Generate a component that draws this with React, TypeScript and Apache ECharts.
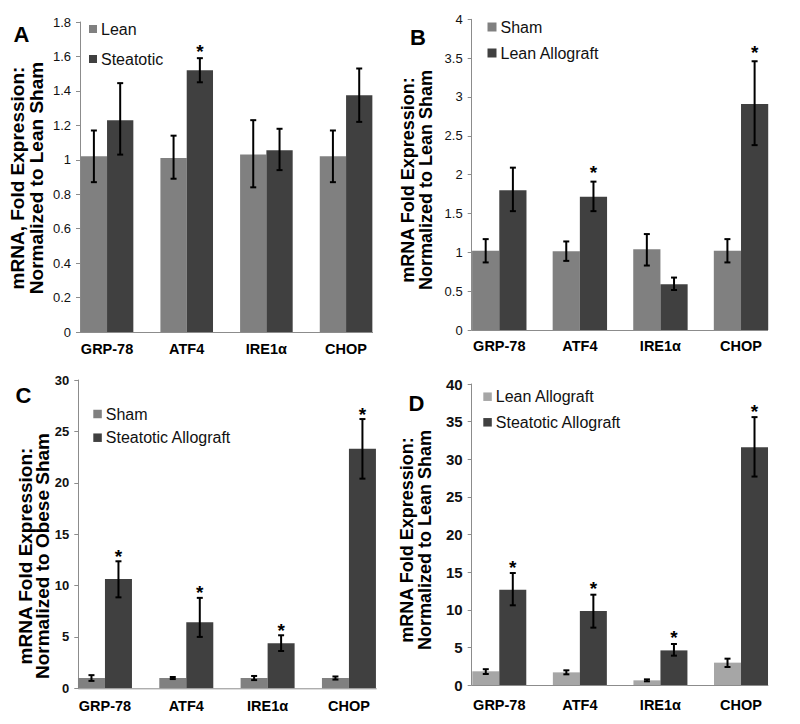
import React, { useEffect, useRef } from 'react';
import * as echarts from 'echarts';

// ---------- data ----------
const categories = ['GRP-78', 'ATF4', 'IRE1α', 'CHOP'];

// Panel A
const aLean = [1.02, 1.01, 1.03, 1.02];
const aLeanLo = [0.87, 0.89, 0.84, 0.87];
const aLeanHi = [1.17, 1.14, 1.23, 1.17];
const aSteat = [1.23, 1.52, 1.055, 1.375];
const aSteatLo = [1.03, 1.45, 0.94, 1.22];
const aSteatHi = [1.445, 1.59, 1.18, 1.53];
const aStars = [0, 1, 0, 0];

// Panel B
const bSham = [1.02, 1.015, 1.04, 1.02];
const bShamLo = [0.87, 0.89, 0.83, 0.87];
const bShamHi = [1.17, 1.14, 1.235, 1.17];
const bLeanAllo = [1.8, 1.715, 0.59, 2.91];
const bLeanAlloLo = [1.53, 1.53, 0.515, 2.38];
const bLeanAlloHi = [2.09, 1.91, 0.675, 3.46];
const bStars = [0, 1, 0, 1];

// Panel C
const cSham = [1.0, 1.0, 1.0, 1.0];
const cShamLo = [0.72, 0.9, 0.8, 0.85];
const cShamHi = [1.28, 1.1, 1.2, 1.15];
const cSteatAllo = [10.63, 6.42, 4.38, 23.3];
const cSteatAlloLo = [8.85, 5.0, 3.63, 20.4];
const cSteatAlloHi = [12.36, 8.8, 5.16, 26.2];
const cStars = [1, 1, 1, 1];

// Panel D
const dLeanAllo = [1.82, 1.68, 0.62, 2.97];
const dLeanAlloLo = [1.46, 1.42, 0.49, 2.39];
const dLeanAlloHi = [2.1, 1.95, 0.75, 3.5];
const dSteatAllo = [12.67, 9.83, 4.6, 31.6];
const dSteatAlloLo = [10.59, 7.62, 3.9, 27.7];
const dSteatAlloHi = [14.88, 12.0, 5.45, 35.6];
const dStars = [1, 1, 1, 1];

// ---------- styling / layout ----------
const FONT = 'Arial, "Liberation Sans", sans-serif';
const LIGHT = '#808080';
const DARK = '#404040';
const PALE = '#a6a6a6';
const AXIS = '#8c8c8c';

type SeriesDef = { name: string; color: string; values: number[]; lo: number[]; hi: number[]; stars: number[] | null };
type PanelDef = {
  letter: string;
  letterX: number; letterY: number;
  gridLeft: number; gridTop: number; gridWidth: number; gridHeight: number;
  axisX: number; axisEnd: number;
  yMax: number; yInterval: number;
  tickSize: number; tickWeight: string;
  catMargin: number;
  barWidth: number;
  legendLeft: number; legendTop: number; legendGap: number; legendIcon: number;
  title: string; titleX: number; titleY: number; titleSize: number; titleLH: number;
  starGap: number;
  series: SeriesDef[];
};

const panels: PanelDef[] = [
  {
    letter: 'A', letterX: 21.5, letterY: 34,
    gridLeft: 67.2, gridTop: 22, gridWidth: 318.7, gridHeight: 310,
    axisX: 80, axisEnd: 373,
    yMax: 1.8, yInterval: 0.2, tickSize: 13, tickWeight: 'normal', catMargin: 9,
    barWidth: 26.3,
    legendLeft: 89, legendTop: 21, legendGap: 14, legendIcon: 8,
    title: 'mRNA, Fold Expression:\nNormalized to Lean Sham', titleX: 27, titleY: 178, titleSize: 19, titleLH: 19,
    starGap: 7,
    series: [
      { name: 'Lean', color: LIGHT, values: aLean, lo: aLeanLo, hi: aLeanHi, stars: null },
      { name: 'Steatotic', color: DARK, values: aSteat, lo: aSteatLo, hi: aSteatHi, stars: aStars },
    ],
  },
  {
    letter: 'B', letterX: 418, letterY: 37,
    gridLeft: 459, gridTop: 19.3, gridWidth: 322.3, gridHeight: 310.7,
    axisX: 471.7, axisEnd: 768,
    yMax: 4, yInterval: 0.5, tickSize: 13, tickWeight: 'normal', catMargin: 8,
    barWidth: 27.2,
    legendLeft: 487.5, legendTop: 19, legendGap: 10, legendIcon: 9,
    title: 'mRNA Fold Expression:\nNormalized to Lean Sham', titleX: 416.5, titleY: 180, titleSize: 18, titleLH: 18,
    starGap: 9,
    series: [
      { name: 'Sham', color: LIGHT, values: bSham, lo: bShamLo, hi: bShamHi, stars: null },
      { name: 'Lean Allograft', color: DARK, values: bLeanAllo, lo: bLeanAlloLo, hi: bLeanAlloHi, stars: bStars },
    ],
  },
  {
    letter: 'C', letterX: 23.5, letterY: 395,
    gridLeft: 64.3, gridTop: 380, gridWidth: 325.3, gridHeight: 308.3,
    axisX: 78.3, axisEnd: 376.7,
    yMax: 30, yInterval: 5, tickSize: 13, tickWeight: 'bold', catMargin: 10,
    barWidth: 27,
    legendLeft: 93.3, legendTop: 406, legendGap: 7.7, legendIcon: 8.5,
    title: 'mRNA Fold Expression:\nNormalized to Obese Sham', titleX: 33.5, titleY: 556, titleSize: 19, titleLH: 17,
    starGap: 5,
    series: [
      { name: 'Sham', color: LIGHT, values: cSham, lo: cShamLo, hi: cShamHi, stars: null },
      { name: 'Steatotic Allograft', color: DARK, values: cSteatAllo, lo: cSteatAlloLo, hi: cSteatAlloHi, stars: cStars },
    ],
  },
  {
    letter: 'D', letterX: 416.5, letterY: 403,
    gridLeft: 459, gridTop: 384, gridWidth: 322.3, gridHeight: 301,
    axisX: 471.7, axisEnd: 768.3,
    yMax: 40, yInterval: 5, tickSize: 15, tickWeight: 'bold', catMargin: 12,
    barWidth: 27,
    legendLeft: 483.3, legendTop: 388.7, legendGap: 9.6, legendIcon: 8.5,
    title: 'mRNA Fold Expression:\nNormalized to Lean Sham', titleX: 415.5, titleY: 540, titleSize: 18, titleLH: 18,
    starGap: 6,
    series: [
      { name: 'Lean Allograft', color: PALE, values: dLeanAllo, lo: dLeanAlloLo, hi: dLeanAlloHi, stars: null },
      { name: 'Steatotic Allograft', color: DARK, values: dSteatAllo, lo: dSteatAlloLo, hi: dSteatAlloHi, stars: dStars },
    ],
  },
];

function errorSeries(pi: number, slot: number, s: SeriesDef, bw: number, starGap: number) {
  return {
    type: 'custom',
    xAxisIndex: pi,
    yAxisIndex: pi,
    silent: true,
    z: 10,
    data: s.lo.map((l, i) => [i, l, s.hi[i], s.stars ? s.stars[i] : 0]),
    renderItem: (_params: any, api: any) => {
      const i = api.value(0);
      const pLo = api.coord([i, api.value(1)]);
      const pHi = api.coord([i, api.value(2)]);
      const x = pLo[0] + (slot === 0 ? -bw / 2 : bw / 2);
      const cap = 3;
      const style = { stroke: '#000', lineWidth: 2 };
      const children: any[] = [
        { type: 'line', shape: { x1: x, y1: pLo[1], x2: x, y2: pHi[1] }, style },
        { type: 'line', shape: { x1: x - cap, y1: pHi[1], x2: x + cap, y2: pHi[1] }, style },
        { type: 'line', shape: { x1: x - cap, y1: pLo[1], x2: x + cap, y2: pLo[1] }, style },
      ];
      if (api.value(3)) {
        children.push({
          type: 'text',
          x,
          y: pHi[1] - starGap,
          style: {
            text: '*', fontSize: 19, fontWeight: 'bold', fontFamily: FONT, fill: '#000',
            align: 'center', verticalAlign: 'middle',
          },
        });
      }
      return { type: 'group', children };
    },
  };
}

function buildOption() {
  const grid: any[] = [];
  const xAxis: any[] = [];
  const yAxis: any[] = [];
  const legend: any[] = [];
  const series: any[] = [];
  const graphic: any[] = [];

  panels.forEach((p, pi) => {
    grid.push({ left: p.gridLeft, top: p.gridTop, width: p.gridWidth, height: p.gridHeight, containLabel: false });
    xAxis.push({
      type: 'category', gridIndex: pi, data: categories,
      axisLine: { show: false }, axisTick: { show: false },
      axisLabel: { color: '#000', fontFamily: FONT, fontSize: 14.5, fontWeight: 'bold', margin: p.catMargin },
    });
    yAxis.push({
      type: 'value', gridIndex: pi, min: 0, max: p.yMax, interval: p.yInterval,
      offset: -(p.axisX - p.gridLeft),
      axisLine: { show: true, lineStyle: { color: AXIS, width: 1 } },
      axisTick: { show: true, length: 4, lineStyle: { color: AXIS } },
      splitLine: { show: false },
      axisLabel: { color: '#111', fontFamily: FONT, fontSize: p.tickSize, fontWeight: p.tickWeight, margin: 9 },
    });
    legend.push({
      orient: 'vertical', left: p.legendLeft, top: p.legendTop, padding: 0,
      itemGap: p.legendGap, itemWidth: p.legendIcon, itemHeight: p.legendIcon, icon: 'rect',
      selectedMode: false,
      textStyle: { fontFamily: FONT, fontSize: 16, color: '#111', padding: [0, 0, 0, -1] },
      data: p.series.map((s) => ({ name: s.name, itemStyle: { color: s.color } })),
    });
    p.series.forEach((s) => {
      series.push({
        type: 'bar', name: s.name, xAxisIndex: pi, yAxisIndex: pi,
        data: s.values, barWidth: p.barWidth, barGap: '0%',
        itemStyle: { color: s.color }, silent: true,
      });
    });
    p.series.forEach((s, si) => {
      series.push(errorSeries(pi, si, s, p.barWidth, p.starGap));
    });

    // x-axis baseline spanning from y-axis to last bar
    const baseY = p.gridTop + p.gridHeight;
    graphic.push({
      type: 'line', z: 5,
      shape: { x1: p.axisX, y1: baseY + 0.5, x2: p.axisEnd, y2: baseY + 0.5 },
      style: { stroke: AXIS, lineWidth: 1 },
    });
    graphic.push({
      type: 'text', x: p.letterX, y: p.letterY,
      style: { text: p.letter, fontFamily: FONT, fontSize: 22, fontWeight: 'bold', fill: '#000', align: 'center', verticalAlign: 'middle' },
    });
    graphic.push({
      type: 'text', x: p.titleX, y: p.titleY, rotation: Math.PI / 2,
      style: {
        text: p.title, fontFamily: FONT, fontSize: p.titleSize, fontWeight: 'bold', fill: '#000',
        align: 'center', verticalAlign: 'middle', lineHeight: p.titleLH,
      },
    });
  });

  return {
    animation: false,
    backgroundColor: '#ffffff',
    grid, xAxis, yAxis, legend, series, graphic,
  };
}

export default function App() {
  const ref = useRef<HTMLDivElement | null>(null);
  useEffect(() => {
    if (!ref.current) return;
    const chart = echarts.init(ref.current, undefined, { renderer: 'svg', width: 800, height: 724 });
    chart.setOption(buildOption() as any);
    return () => chart.dispose();
  }, []);
  return (
    <div
      ref={ref}
      style={{ position: 'fixed', left: 0, top: 0, width: 800, height: 724, background: '#fff' }}
    />
  );
}
